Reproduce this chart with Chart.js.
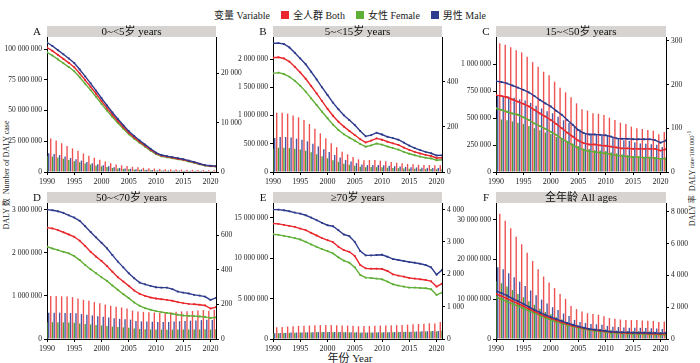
<!DOCTYPE html>
<html>
<head>
<meta charset="utf-8">
<script src="https://cdn.jsdelivr.net/npm/chart.js@4.4.1/dist/chart.umd.min.js"></script>
<style>
  body { margin: 0; width: 700px; height: 363px; background: #fff; position: relative; overflow: hidden;
         font-family: 'Liberation Serif', 'Noto Sans CJK SC', serif; color: #222; }
  canvas { position: absolute; }
  #legend { position: absolute; top: 7px; left: 0; width: 700px; text-align: center; font-size: 10px; }
  #legend span { display: inline-block; vertical-align: middle; margin: 0 3px; }
  #legend i { display: inline-block; width: 8px; height: 8px; vertical-align: middle; margin: 0 1px 0 8px; }
  .vtitle { position: absolute; width: 200px; text-align: center; font-size: 8px; line-height: 10px; transform: rotate(-90deg); white-space: nowrap; }
  #xtitle { position: absolute; left: 300px; width: 100px; top: 349px; text-align: center; font-size: 11px; }
</style>
</head>
<body>
<div id="legend"><span>变量 Variable</span><i style="background:#e8262b"></i><span>全人群 Both</span><i style="background:#5fae35"></i><span>女性 Female</span><i style="background:#2e3a8c"></i><span>男性 Male</span></div>
<div class="vtitle" style="left:-93px; top:170px;">DALY 数&nbsp;&nbsp;Number of DALY case</div>
<div class="vtitle" style="left:591px; top:172px;">DALY 率&nbsp;&nbsp;DALY <span style="font-size:6.5px">rate/100 000<sup>-1</sup></span></div>
<div id="xtitle">年份 Year</div>

<canvas id="cA" width="246" height="165" style="left:0px; top:23px"></canvas>
<canvas id="cB" width="246" height="165" style="left:226px; top:23px"></canvas>
<canvas id="cC" width="247" height="165" style="left:449px; top:23px"></canvas>
<canvas id="cD" width="246" height="166" style="left:0px; top:189px"></canvas>
<canvas id="cE" width="246" height="166" style="left:226px; top:189px"></canvas>
<canvas id="cF" width="247" height="166" style="left:449px; top:189px"></canvas>

<script>
const years = [1990, 1991, 1992, 1993, 1994, 1995, 1996, 1997, 1998, 1999, 2000, 2001, 2002, 2003, 2004, 2005,
               2006, 2007, 2008, 2009, 2010, 2011, 2012, 2013, 2014, 2015, 2016, 2017, 2018, 2019, 2020, 2021];
const yearTicks = [1990, 1995, 2000, 2005, 2010, 2015, 2020];

// A  0~<5 years
const aCountBoth   = [28.2e6, 27.2e6, 25.6e6, 23.4e6, 21.2e6, 19.2e6, 17.2e6, 15.1e6, 13.2e6, 11.6e6, 10.0e6, 8.6e6, 7.2e6, 6.1e6, 5.4e6, 4.8e6, 4.2e6, 3.8e6, 3.4e6, 3.1e6, 2.8e6, 2.4e6, 2.3e6, 2.2e6, 2.1e6, 2.0e6, 1.9e6, 1.8e6, 1.7e6, 1.6e6, 1.5e6, 1.5e6];
const aCountFemale = [13.0e6, 12.5e6, 11.8e6, 10.8e6, 9.8e6, 8.8e6, 7.9e6, 6.9e6, 6.1e6, 5.3e6, 4.6e6, 4.0e6, 3.3e6, 2.8e6, 2.5e6, 2.2e6, 1.9e6, 1.7e6, 1.55e6, 1.4e6, 1.3e6, 1.1e6, 1.05e6, 1.0e6, 0.95e6, 0.9e6, 0.87e6, 0.82e6, 0.77e6, 0.73e6, 0.68e6, 0.68e6];
const aCountMale   = [15.2e6, 14.7e6, 13.8e6, 12.6e6, 11.4e6, 10.4e6, 9.3e6, 8.2e6, 7.1e6, 6.3e6, 5.4e6, 4.6e6, 3.9e6, 3.3e6, 2.9e6, 2.6e6, 2.3e6, 2.1e6, 1.85e6, 1.7e6, 1.5e6, 1.3e6, 1.25e6, 1.2e6, 1.15e6, 1.1e6, 1.03e6, 0.98e6, 0.93e6, 0.87e6, 0.82e6, 0.82e6];
const aRateBoth    = [25270, 24590, 23780, 22970, 22160, 21280, 20000, 18650, 17300, 15880, 14390, 12970, 11620, 10340, 9120, 7970, 7030, 6150, 5340, 4530, 3780, 3310, 3110, 2910, 2700, 2500, 2230, 1960, 1620, 1350, 1220, 1150];
const aRateFemale  = [24300, 23640, 22860, 22080, 21300, 20450, 19220, 17920, 16620, 15260, 13830, 12460, 11170, 9940, 8770, 7660, 6760, 5910, 5130, 4350, 3630, 3180, 2990, 2800, 2590, 2400, 2140, 1880, 1560, 1300, 1170, 1100];
const aRateMale    = [26280, 25570, 24730, 23890, 23050, 22130, 20800, 19400, 17990, 16520, 14970, 13490, 12080, 10750, 9480, 8290, 7310, 6400, 5550, 4710, 3930, 3440, 3230, 3030, 2810, 2600, 2320, 2040, 1680, 1400, 1270, 1200];
const aLeftTicks = [0, 25e6, 50e6, 75e6, 100e6];
const aRightTicks = [0, 10000, 20000];

// B  5~<15 years
const bCountBoth   = [1010e3, 1050e3, 1050e3, 1035e3, 1000e3, 968e3, 921e3, 850e3, 767e3, 685e3, 596e3, 508e3, 437e3, 360e3, 313e3, 266e3, 224e3, 207e3, 212e3, 212e3, 200e3, 189e3, 177e3, 165e3, 153e3, 142e3, 136e3, 130e3, 124e3, 124e3, 118e3, 118e3];
const bCountFemale = [410e3, 430e3, 430e3, 424e3, 410e3, 397e3, 378e3, 348e3, 314e3, 281e3, 244e3, 208e3, 179e3, 148e3, 128e3, 109e3, 92e3, 85e3, 87e3, 87e3, 82e3, 77e3, 73e3, 68e3, 63e3, 58e3, 56e3, 53e3, 51e3, 51e3, 48e3, 48e3];
const bCountMale   = [600e3, 620e3, 620e3, 611e3, 590e3, 571e3, 543e3, 502e3, 453e3, 404e3, 352e3, 300e3, 258e3, 212e3, 185e3, 157e3, 132e3, 122e3, 125e3, 125e3, 118e3, 112e3, 104e3, 97e3, 90e3, 84e3, 80e3, 77e3, 73e3, 73e3, 70e3, 70e3];
const bRateBoth    = [506, 508, 503, 489, 466, 441, 413, 381, 348, 314, 280, 249, 223, 201, 182, 164, 145, 131, 139, 149, 143, 134, 127, 120, 108, 98, 89, 82, 76, 71, 62, 63];
const bRateFemale  = [437, 440, 434, 422, 404, 382, 356, 326, 297, 267, 238, 210, 186, 167, 152, 139, 124, 112, 118, 126, 121, 113, 106, 99, 89, 81, 74, 68, 63, 60, 52, 54];
const bRateMale    = [570, 571, 567, 552, 528, 503, 477, 444, 410, 375, 341, 307, 278, 251, 230, 208, 182, 158, 163, 174, 166, 156, 150, 143, 130, 117, 106, 97, 89, 83, 73, 74];
const bLeftTicks = [0, 5e5, 1e6, 1.5e6, 2e6];
const bRightTicks = [0, 200, 400];

// C  15~<50 years
const cCountBoth   = [1200e3, 1194e3, 1180e3, 1157e3, 1130e3, 1110e3, 1070e3, 1020e3, 978e3, 931e3, 897e3, 838e3, 783e3, 739e3, 693e3, 637e3, 582e3, 570e3, 545e3, 541e3, 529e3, 504e3, 483e3, 458e3, 446e3, 421e3, 405e3, 399e3, 390e3, 384e3, 350e3, 371e3];
const cCountFemale = [492e3, 488e3, 480e3, 469e3, 456e3, 446e3, 428e3, 406e3, 388e3, 367e3, 352e3, 326e3, 303e3, 284e3, 265e3, 242e3, 219e3, 213e3, 202e3, 199e3, 193e3, 182e3, 173e3, 163e3, 157e3, 147e3, 140e3, 137e3, 133e3, 130e3, 117e3, 123e3];
const cCountMale   = [708e3, 706e3, 700e3, 688e3, 674e3, 664e3, 642e3, 614e3, 590e3, 564e3, 545e3, 512e3, 480e3, 455e3, 428e3, 395e3, 363e3, 357e3, 343e3, 342e3, 336e3, 322e3, 310e3, 295e3, 289e3, 274e3, 265e3, 262e3, 257e3, 254e3, 233e3, 248e3];
const cRateBoth    = [176, 174, 171, 166, 161, 156, 150, 142, 134, 127, 119, 110, 100, 90, 81, 72, 66, 63, 63, 61, 60, 58, 56, 54, 54, 53, 53, 53, 53, 53, 49, 52];
const cRateFemale  = [146, 142, 138, 134, 131, 125, 119, 111, 105, 99, 92, 85, 76, 69, 61, 55, 50, 47, 46, 44, 43, 40, 38, 37, 35, 34, 34, 33, 33, 32, 30, 31];
const cRateMale    = [208, 206, 203, 198, 193, 188, 182, 174, 165, 157, 150, 140, 131, 119, 108, 96, 89, 86, 86, 85, 84, 81, 77, 76, 76, 75, 75, 75, 75, 73, 67, 72];
const cLeftTicks = [0, 2.5e5, 5e5, 7.5e5, 1e6];
const cRightTicks = [0, 100, 200, 300];

// D  50~<70 years
const dCountBoth   = [1000e3, 1000e3, 1000e3, 990e3, 985e3, 970e3, 940e3, 910e3, 885e3, 855e3, 830e3, 800e3, 770e3, 746e3, 730e3, 710e3, 660e3, 640e3, 630e3, 620e3, 615e3, 610e3, 610e3, 620e3, 630e3, 640e3, 645e3, 650e3, 660e3, 670e3, 655e3, 680e3];
const dCountFemale = [390e3, 390e3, 389e3, 385e3, 382e3, 375e3, 362e3, 349e3, 338e3, 325e3, 314e3, 301e3, 288e3, 278e3, 270e3, 261e3, 241e3, 232e3, 227e3, 222e3, 219e3, 216e3, 214e3, 216e3, 218e3, 220e3, 220e3, 220e3, 222e3, 224e3, 217e3, 224e3];
const dCountMale   = [610e3, 610e3, 611e3, 605e3, 603e3, 595e3, 578e3, 561e3, 547e3, 530e3, 516e3, 499e3, 482e3, 468e3, 460e3, 449e3, 419e3, 408e3, 403e3, 398e3, 396e3, 394e3, 396e3, 404e3, 412e3, 420e3, 425e3, 430e3, 438e3, 446e3, 438e3, 456e3];
const dRateBoth    = [644, 639, 629, 617, 604, 591, 568, 537, 504, 476, 451, 422, 389, 357, 332, 307, 280, 261, 249, 240, 234, 230, 226, 221, 213, 207, 203, 201, 198, 194, 176, 184];
const dRateFemale  = [533, 523, 514, 504, 495, 479, 456, 428, 403, 380, 357, 336, 309, 284, 259, 236, 211, 192, 178, 169, 161, 155, 151, 146, 140, 136, 134, 132, 130, 128, 121, 125];
const dRateMale    = [748, 744, 738, 729, 715, 702, 683, 652, 619, 587, 556, 524, 485, 447, 414, 380, 351, 326, 316, 307, 299, 297, 297, 288, 274, 268, 263, 255, 251, 245, 226, 238];
const dLeftTicks = [0, 1e6, 2e6, 3e6];
const dRightTicks = [0, 200, 400, 600];

// E  >=70 years
const eCountBoth   = [1.42e6, 1.45e6, 1.5e6, 1.55e6, 1.58e6, 1.62e6, 1.65e6, 1.67e6, 1.7e6, 1.72e6, 1.73e6, 1.72e6, 1.7e6, 1.68e6, 1.66e6, 1.65e6, 1.58e6, 1.6e6, 1.62e6, 1.64e6, 1.66e6, 1.68e6, 1.7e6, 1.72e6, 1.75e6, 1.78e6, 1.82e6, 1.86e6, 1.9e6, 1.95e6, 1.92e6, 2.1e6];
const eCountFemale = [0.7e6, 0.71e6, 0.74e6, 0.76e6, 0.78e6, 0.8e6, 0.81e6, 0.82e6, 0.84e6, 0.85e6, 0.85e6, 0.85e6, 0.84e6, 0.83e6, 0.82e6, 0.81e6, 0.78e6, 0.79e6, 0.8e6, 0.81e6, 0.82e6, 0.83e6, 0.84e6, 0.85e6, 0.86e6, 0.87e6, 0.89e6, 0.91e6, 0.93e6, 0.95e6, 0.93e6, 1.02e6];
const eCountMale   = [0.72e6, 0.74e6, 0.76e6, 0.79e6, 0.8e6, 0.82e6, 0.84e6, 0.85e6, 0.86e6, 0.87e6, 0.88e6, 0.87e6, 0.86e6, 0.85e6, 0.84e6, 0.84e6, 0.8e6, 0.81e6, 0.82e6, 0.83e6, 0.84e6, 0.85e6, 0.86e6, 0.87e6, 0.89e6, 0.91e6, 0.93e6, 0.95e6, 0.97e6, 1.0e6, 0.99e6, 1.08e6];
const eRateBoth    = [3569, 3559, 3528, 3497, 3467, 3415, 3364, 3282, 3200, 3118, 3056, 2995, 2851, 2749, 2697, 2564, 2287, 2185, 2174, 2174, 2164, 2103, 2000, 1959, 1928, 1887, 1867, 1846, 1826, 1785, 1621, 1713];
const eRateFemale  = [3241, 3221, 3190, 3159, 3118, 3077, 3005, 2923, 2851, 2779, 2718, 2646, 2523, 2421, 2359, 2215, 1979, 1897, 1887, 1867, 1846, 1774, 1692, 1651, 1621, 1590, 1590, 1579, 1569, 1538, 1364, 1436];
const eRateMale    = [4000, 4000, 3979, 3949, 3908, 3877, 3826, 3754, 3672, 3590, 3518, 3487, 3364, 3231, 3179, 3005, 2718, 2585, 2585, 2595, 2605, 2544, 2472, 2441, 2410, 2379, 2359, 2328, 2287, 2215, 1990, 2133];
const eLeftTicks = [0, 5e6, 10e6, 15e6];
const eRightTicks = [0, 1000, 2000, 3000, 4000];

// F  all ages
const fCountBoth   = [32.5e6, 31.5e6, 29.7e6, 27.8e6, 25.7e6, 23.8e6, 21.7e6, 19.6e6, 17.5e6, 15.7e6, 14.2e6, 12.8e6, 11.3e6, 10.1e6, 8.3e6, 7.5e6, 6.9e6, 6.5e6, 6.3e6, 6.1e6, 5.7e6, 5.3e6, 5.1e6, 4.9e6, 4.8e6, 4.75e6, 4.75e6, 4.65e6, 4.6e6, 4.5e6, 4.25e6, 4.4e6];
const fCountFemale = [14.5e6, 14.0e6, 13.2e6, 12.3e6, 11.3e6, 10.5e6, 9.5e6, 8.6e6, 7.6e6, 6.8e6, 6.2e6, 5.5e6, 4.9e6, 4.3e6, 3.5e6, 3.2e6, 2.9e6, 2.7e6, 2.6e6, 2.5e6, 2.4e6, 2.2e6, 2.1e6, 2.0e6, 2.0e6, 1.95e6, 1.95e6, 1.9e6, 1.9e6, 1.85e6, 1.75e6, 1.8e6];
const fCountMale   = [18.0e6, 17.5e6, 16.5e6, 15.5e6, 14.4e6, 13.3e6, 12.2e6, 11.0e6, 9.9e6, 8.9e6, 8.0e6, 7.3e6, 6.4e6, 5.8e6, 4.8e6, 4.3e6, 4.0e6, 3.8e6, 3.7e6, 3.6e6, 3.3e6, 3.1e6, 3.0e6, 2.9e6, 2.8e6, 2.8e6, 2.8e6, 2.75e6, 2.7e6, 2.65e6, 2.5e6, 2.6e6];
const fRateBoth    = [2841, 2695, 2548, 2381, 2235, 2068, 1901, 1734, 1567, 1420, 1295, 1170, 1044, 940, 836, 752, 668, 606, 564, 522, 480, 439, 418, 397, 376, 376, 355, 355, 334, 334, 313, 334];
const fRateFemale  = [2632, 2507, 2360, 2214, 2068, 1922, 1775, 1629, 1483, 1337, 1211, 1086, 982, 877, 794, 710, 627, 564, 522, 480, 439, 397, 376, 355, 334, 334, 313, 313, 292, 292, 272, 272];
const fRateMale    = [3029, 2883, 2737, 2549, 2381, 2214, 2026, 1838, 1671, 1525, 1379, 1253, 1128, 1003, 898, 794, 710, 627, 585, 543, 501, 460, 439, 418, 418, 397, 397, 397, 376, 376, 355, 376];
const fLeftTicks = [0, 1e7, 2e7, 3e7];
const fRightTicks = [0, 2000, 4000, 6000, 8000];

const RED = '#e8262b', GREEN = '#5fae35', BLUE = '#2e3a8c';
const BAR_RED = '#ef5050', BAR_GREEN = '#4f9a2e', BAR_BLUE = '#4656a2';
const FONT = "'Liberation Serif', 'Noto Sans CJK SC', serif";

function spaced(v) {
  return Math.round(v).toString().replace(/\B(?=(\d{3})+(?!\d))/g, ' ');
}

// grey strip with the panel title, plus the panel letter
const stripPlugin = {
  id: 'strip',
  afterDraw(chart, args, opts) {
    const { ctx, chartArea: a } = chart;
    ctx.save();
    ctx.fillStyle = '#d6d3d0';
    ctx.fillRect(a.left, a.top - 11, a.right - a.left, 11);
    ctx.fillStyle = '#111';
    ctx.font = '11px ' + FONT;
    ctx.textAlign = 'center';
    ctx.textBaseline = 'middle';
    ctx.fillText(opts.title, (a.left + a.right) / 2, a.top - 5);
    ctx.fillText(opts.letter, a.left - 10, a.top - 5);
    ctx.restore();
  }
};

function axisBase() {
  return {
    grid: { drawOnChartArea: false, color: '#000', tickLength: 3 },
    border: { display: true, color: '#000', width: 1 },
    ticks: { font: { family: FONT, size: 7.5 }, color: '#222', padding: 2 }
  };
}

function makePanel(id, p) {
  const line = (label, data, color) => ({
    type: 'line', label, data, yAxisID: 'y2', order: 0,
    borderColor: color, borderWidth: 1.4, tension: 0,
    pointStyle: 'rect', pointRadius: 1.3, pointBorderWidth: 0, pointBackgroundColor: color
  });
  const bar = (label, data, color) => ({
    type: 'bar', label, data, yAxisID: 'y', order: 1,
    backgroundColor: color, barPercentage: 0.8, categoryPercentage: 0.95
  });
  const x = axisBase();
  Object.assign(x, {
    type: 'linear', min: 1990, max: 2021, offset: false,
    afterBuildTicks: s => { s.ticks = yearTicks.map(v => ({ value: v })); },
    afterFit: s => { s.height = 16; }
  });
  x.grid.offset = false;
  x.ticks.callback = v => String(v);
  x.ticks.maxRotation = 0;
  x.ticks.font = { family: FONT, size: 8 };
  const y = axisBase();
  Object.assign(y, {
    position: 'left', min: 0, max: p.leftMax,
    afterBuildTicks: s => { s.ticks = p.leftTicks.map(v => ({ value: v })); },
    afterFit: s => { s.width = 47; }
  });
  y.ticks.callback = v => spaced(v);
  const y2 = axisBase();
  Object.assign(y2, {
    position: 'right', min: 0, max: p.rightMax,
    afterBuildTicks: s => { s.ticks = p.rightTicks.map(v => ({ value: v })); },
    afterFit: s => { s.width = 30; }
  });
  y2.ticks.callback = v => spaced(v);

  new Chart(document.getElementById(id), {
    type: 'bar',
    data: {
      labels: years,
      datasets: [
        line('男性 Male', p.rateMale, BLUE),
        line('全人群 Both', p.rateBoth, RED),
        line('女性 Female', p.rateFemale, GREEN),
        bar('全人群 Both', p.countBoth, BAR_RED),
        bar('女性 Female', p.countFemale, BAR_GREEN),
        bar('男性 Male', p.countMale, BAR_BLUE)
      ]
    },
    options: {
      responsive: false,
      animation: false,
      layout: { padding: { top: 14, left: 0, right: 0, bottom: 0 } },
      plugins: { legend: { display: false }, tooltip: { enabled: false }, strip: { title: p.title, letter: p.letter } },
      scales: { x, y, y2 }
    },
    plugins: [stripPlugin]
  });
}

makePanel('cA', { letter: 'A', title: '0~<5岁 years', leftMax: 109.8e6, rightMax: 27400,
  leftTicks: aLeftTicks, rightTicks: aRightTicks,
  countBoth: aCountBoth, countFemale: aCountFemale, countMale: aCountMale,
  rateBoth: aRateBoth, rateFemale: aRateFemale, rateMale: aRateMale });
makePanel('cB', { letter: 'B', title: '5~<15岁 years', leftMax: 2.39e6, rightMax: 598,
  leftTicks: bLeftTicks, rightTicks: bRightTicks,
  countBoth: bCountBoth, countFemale: bCountFemale, countMale: bCountMale,
  rateBoth: bRateBoth, rateFemale: bRateFemale, rateMale: bRateMale });
makePanel('cC', { letter: 'C', title: '15~<50岁 years', leftMax: 1.253e6, rightMax: 309,
  leftTicks: cLeftTicks, rightTicks: cRightTicks,
  countBoth: cCountBoth, countFemale: cCountFemale, countMale: cCountMale,
  rateBoth: cRateBoth, rateFemale: cRateFemale, rateMale: cRateMale });
makePanel('cD', { letter: 'D', title: '50~<70岁 years', leftMax: 3.154e6, rightMax: 786,
  leftTicks: dLeftTicks, rightTicks: dRightTicks,
  countBoth: dCountBoth, countFemale: dCountFemale, countMale: dCountMale,
  rateBoth: dRateBoth, rateFemale: dRateFemale, rateMale: dRateMale });
makePanel('cE', { letter: 'E', title: '≥70岁 years', leftMax: 16.85e6, rightMax: 4205,
  leftTicks: eLeftTicks, rightTicks: eRightTicks,
  countBoth: eCountBoth, countFemale: eCountFemale, countMale: eCountMale,
  rateBoth: eRateBoth, rateFemale: eRateFemale, rateMale: eRateMale });
makePanel('cF', { letter: 'F', title: '全年龄 All ages', leftMax: 34.17e6, rightMax: 8564,
  leftTicks: fLeftTicks, rightTicks: fRightTicks,
  countBoth: fCountBoth, countFemale: fCountFemale, countMale: fCountMale,
  rateBoth: fRateBoth, rateFemale: fRateFemale, rateMale: fRateMale });
</script>
</body>
</html>
